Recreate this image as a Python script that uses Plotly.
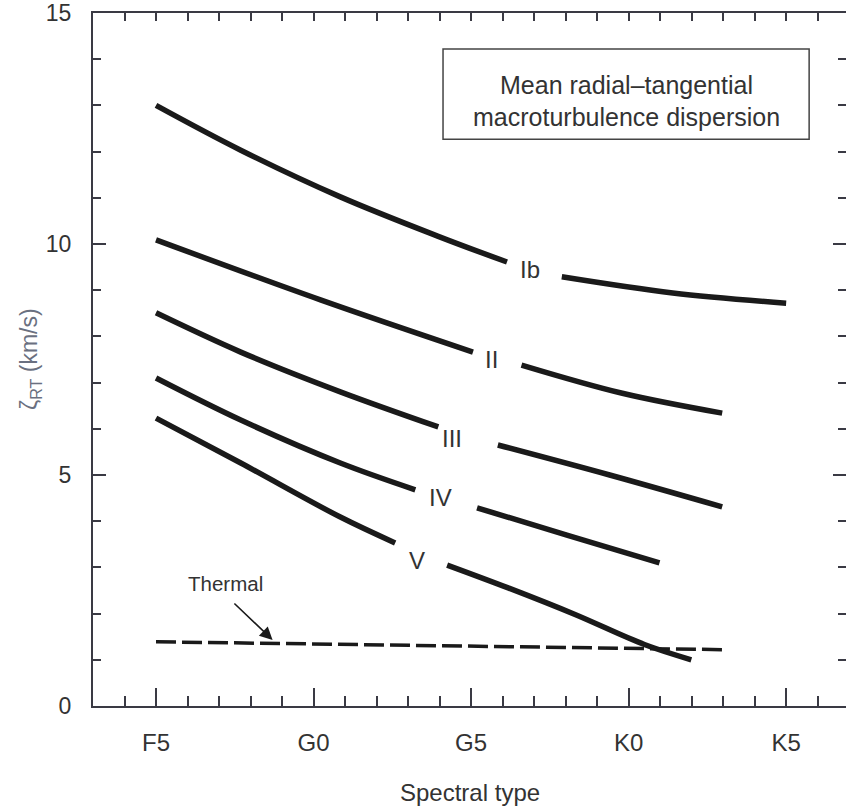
import plotly.graph_objects as go

# Spectral type axis: F5=0, G0=5, G5=10, K0=15, K5=20
tick_vals = [0, 5, 10, 15, 20]
tick_text = ["F5", "G0", "G5", "K0", "K5"]

# Curves (two segments each, gap for label)
ib_x = [0, 2.69, 5.85, 9.02, 11.14, None, 12.88, 16.4, 20]
ib_y = [13.0, 12.03, 11.02, 10.15, 9.61, None, 9.29, 8.94, 8.72]
ii_x = [0, 5.22, 10.06, None, 11.6, 14.8, 17.97]
ii_y = [10.09, 8.79, 7.66, None, 7.38, 6.77, 6.34]
iii_x = [0, 2.69, 5.85, 8.96, None, 10.85, 14.4, 17.97]
iii_y = [8.51, 7.66, 6.8, 6.04, None, 5.65, 5.0, 4.31]
iv_x = [0, 2.69, 5.85, 8.23, None, 10.19, 13.04, 15.98]
iv_y = [7.1, 6.19, 5.26, 4.68, None, 4.29, 3.7, 3.1]
v_x = [0, 2.69, 5.85, 7.59, None, 9.24, 11.2, 13.3, 15.5, 16.99]
v_y = [6.23, 5.26, 4.09, 3.53, None, 3.05, 2.55, 1.98, 1.33, 1.0]
thermal_x = [0, 17.97]
thermal_y = [1.39, 1.22]

labels = ["Ib", "II", "III", "IV", "V"]
label_x = [11.87, 10.66, 9.4, 9.02, 8.29]
label_y = [9.44, 7.49, 5.8, 4.52, 3.16]

FONT = "Liberation Sans, Arial, sans-serif"
INK = "#1a1a1a"
AX = "#3a3a44"
TXT = "#333333"

fig = go.Figure()
for xs, ys in [(ib_x, ib_y), (ii_x, ii_y), (iii_x, iii_y), (iv_x, iv_y), (v_x, v_y)]:
    fig.add_trace(go.Scatter(x=xs, y=ys, mode="lines", line=dict(color=INK, width=5.5, shape="spline"),
                             connectgaps=False, showlegend=False, hoverinfo="skip"))
fig.add_trace(go.Scatter(x=thermal_x, y=thermal_y, mode="lines",
                         line=dict(color=INK, width=3.5, dash="20px,6px"), showlegend=False, hoverinfo="skip"))

# invisible trace for secondary axes
fig.add_trace(go.Scatter(x=[0], y=[0], xaxis="x2", yaxis="y2", mode="markers",
                         marker=dict(opacity=0), showlegend=False, hoverinfo="skip"))

for t, lx, ly in zip(labels, label_x, label_y):
    fig.add_annotation(x=lx, y=ly, text=t, showarrow=False, font=dict(family=FONT, size=24, color=TXT))

fig.add_annotation(x=2.2, y=2.66, text="Thermal", showarrow=False, font=dict(family=FONT, size=20.5, color=TXT))
fig.add_annotation(x=3.7, y=1.43, ax=2.44, ay=2.25, axref="x", ayref="y", xref="x", yref="y",
                   text="", showarrow=True, arrowhead=2, arrowsize=1.6, arrowwidth=1.6, arrowcolor=INK)

# box
fig.add_shape(type="rect", x0=9.11, x1=20.73, y0=12.27, y1=14.22, line=dict(color="#444", width=1.5))
fig.add_annotation(x=14.92, y=13.44, text="Mean radial\u2013tangential", showarrow=False,
                   font=dict(family=FONT, size=25, color=TXT))
fig.add_annotation(x=14.92, y=12.75, text="macroturbulence dispersion", showarrow=False,
                   font=dict(family=FONT, size=25, color=TXT))

# axis titles
fig.add_annotation(x=0.5, y=-0.1255, xref="paper", yref="paper", text="Spectral type", showarrow=False,
                   xanchor="center", yanchor="middle", font=dict(family=FONT, size=24, color=TXT))
fig.add_annotation(x=-0.083, y=0.5, xref="paper", yref="paper", text="\u03b6<sub>RT</sub> (km/s)",
                   xanchor="center", yanchor="middle",
                   textangle=-90, showarrow=False, font=dict(family=FONT, size=23, color="#6a7080"))

XR = [-2, 21.9]
YR = [0, 15]
fig.update_layout(
    width=846, height=812,
    margin=dict(l=93, r=0, t=13, b=106),
    plot_bgcolor="white", paper_bgcolor="white",
    xaxis=dict(range=XR, tickvals=tick_vals, ticktext=tick_text, ticks="inside", ticklen=18,
               tickwidth=2, tickcolor=AX, showline=True, linecolor=AX, linewidth=2, showgrid=False,
               zeroline=False, tickfont=dict(family=FONT, size=24, color=TXT), ticklabelstandoff=14,
               minor=dict(dtick=1, tick0=0, ticks="inside", ticklen=10, tickwidth=1.5, tickcolor=AX, showgrid=False)),
    yaxis=dict(range=YR, tickvals=[0, 5, 10, 15], ticks="inside", ticklen=13, tickwidth=2, tickcolor=AX,
               showline=True, linecolor=AX, linewidth=2, showgrid=False, zeroline=False,
               tickfont=dict(family=FONT, size=23, color=TXT), ticklabelstandoff=15,
               minor=dict(dtick=1, tick0=0, ticks="inside", ticklen=8, tickwidth=1.5, tickcolor=AX, showgrid=False)),
    xaxis2=dict(range=XR, overlaying="x", side="top", matches="x", tickvals=tick_vals, showticklabels=False,
                ticks="inside", ticklen=8, tickwidth=1.5, tickcolor=AX, showline=True, linecolor=AX, linewidth=2,
                showgrid=False, zeroline=False,
                minor=dict(dtick=1, tick0=0, ticks="inside", ticklen=8, tickwidth=1.5, tickcolor=AX, showgrid=False)),
    yaxis2=dict(range=YR, overlaying="y", side="right", matches="y", tickvals=[0, 5, 10, 15], showticklabels=False,
                ticks="inside", ticklen=13, tickwidth=2, tickcolor=AX, showline=True, linecolor=AX, linewidth=2,
                showgrid=False, zeroline=False,
                minor=dict(dtick=1, tick0=0, ticks="inside", ticklen=8, tickwidth=1.5, tickcolor=AX, showgrid=False)),
)

fig.write_html("out.html")
